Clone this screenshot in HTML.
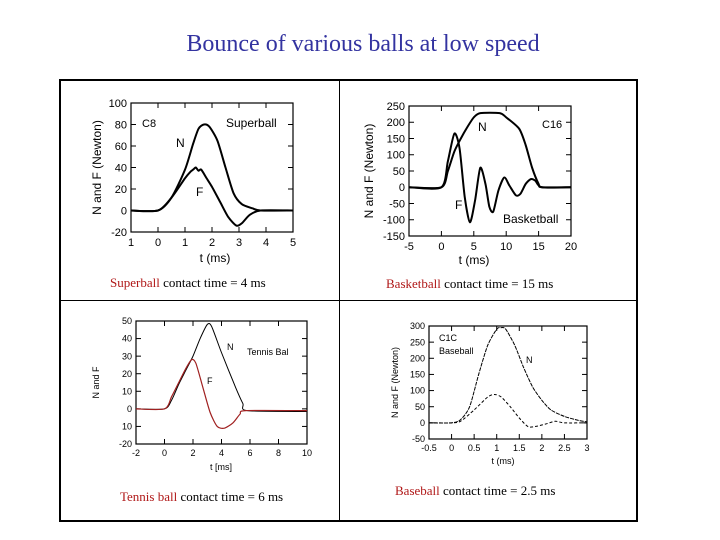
<!DOCTYPE html>
<html><head><meta charset="utf-8"><style>
body{margin:0;background:#fff;width:720px;height:540px;overflow:hidden;font-family:"Liberation Sans",sans-serif}
.cap{position:absolute;font-family:"Liberation Serif",serif;font-size:13px;color:#000;white-space:nowrap}
.cap span{color:#b01818}
</style></head><body>
<div style="position:absolute;left:0;width:726px;top:31px;text-align:center;font-family:'Liberation Serif',serif;font-size:24px;color:#3333a0">Bounce of various balls at low speed</div>
<div style="position:absolute;left:59px;top:79px;width:575px;height:439px;border:2px solid #000;box-sizing:content-box"></div>
<div style="position:absolute;left:339px;top:80px;width:1px;height:440px;background:#000"></div>
<div style="position:absolute;left:60px;top:300px;width:576px;height:1px;background:#000"></div>
<svg id="svg" width="720" height="540" style="position:absolute;left:0;top:0"></svg>
<div class="cap" style="left:110px;top:275px"><span>Superball</span> contact time = 4 ms</div>
<div class="cap" style="left:386px;top:276px"><span>Basketball</span> contact time = 15 ms</div>
<div class="cap" style="left:120px;top:489px"><span>Tennis ball</span> contact time = 6 ms</div>
<div class="cap" style="left:395px;top:483px"><span>Baseball</span> contact time = 2.5 ms</div>
<script>
// Superball
const sbNt=[-1,0,0.5,1,1.3,1.5,1.7,1.9,2.2,2.5,2.8,3.1,3.5,3.8,5];
const sbN=[0,0,12,38,62,76,80,78,65,40,16,6,2,0,0];
const sbFt=[-1,0,0.5,1,1.2,1.3,1.4,1.5,1.6,1.8,2,2.3,2.6,2.9,3.1,3.4,3.8,5];
const sbF=[0,0,12,30,36,38,40,37,38,30,22,8,-6,-14,-12,-4,0,0];
const sbXt=[-1,0,1,2,3,4,5];const sbXl=["1","0","1","2","3","4","5"];
const sbYt=[100,80,60,40,20,0,-20];
// Basketball
const bbNt=[-5,0,1,2,3,4,5,6,9,10,12,13,14,15,15.5,20];
const bbN=[0,0,50,110,150,185,215,228,228,215,180,130,60,10,0,0];
const bbFt=[-5,0,1,2,2.8,3.6,4.4,5.2,6,6.8,7.4,8,8.8,9.7,10.5,11.5,12.2,13,13.8,14.5,15.5,20];
const bbF=[0,0,80,165,120,-30,-108,-40,60,10,-60,-75,-10,30,5,-25,-20,10,25,20,0,0];
const bbXt=[-5,0,5,10,15,20];const bbYt=[250,200,150,100,50,0,-50,-100,-150];
// Tennis
const tbNt=[-2,0,0.5,1,1.5,2,2.5,3,3.3,4,5,5.5,5.8,10];
const tbN=[0,0,5,14,22,30,40,48,47,32,12,3,-1,-1.5];
const tbFt=[-2,0,0.5,1,1.5,1.9,2.2,2.7,3.2,3.7,4.2,4.8,5.3,5.7,10];
const tbF=[0,0,7,15,23,28,26,12,-2,-10,-11,-8,-3,-1,-1];
const tbXt=[-2,0,2,4,6,8,10];const tbYt=[50,40,30,20,10,0,-10,-20];const tbYl=["50","40","30","20","10","0","10","-20"];
// Baseball
const bsNt=[-0.5,0,0.2,0.4,0.6,0.8,1,1.1,1.2,1.4,1.6,1.8,2,2.2,2.5,2.8,3];
const bsN=[0,0,10,50,150,240,290,295,290,240,170,110,70,40,20,8,3];
const bsFt=[-0.5,0,0.2,0.5,0.8,0.95,1.1,1.3,1.5,1.7,1.9,2.1,2.3,2.5,3];
const bsF=[0,0,5,40,80,88,80,50,15,-12,-10,-3,5,0,0];
const bsXt=[-0.5,0,0.5,1,1.5,2,2.5,3];const bsXl=["-0.5","0","0.5","1","1.5","2","2.5","3"];
const bsYt=[300,250,200,150,100,50,0,-50];

const svg=document.getElementById('svg');const NS='http://www.w3.org/2000/svg';
function mk(t,a,p){const e=document.createElementNS(NS,t);for(const k in a)e.setAttribute(k,a[k]);(p||svg).appendChild(e);return e;}
function smooth(P){let d='M'+P[0][0]+','+P[0][1];const k=8;
  for(let i=0;i<P.length-1;i++){const p0=P[i-1]||P[i],p1=P[i],p2=P[i+1],p3=P[i+2]||p2;
    const c1=[p1[0]+(p2[0]-p0[0])/k,p1[1]+(p2[1]-p0[1])/k],c2=[p2[0]-(p3[0]-p1[0])/k,p2[1]-(p3[1]-p1[1])/k];
    d+=` C${c1[0]},${c1[1]} ${c2[0]},${c2[1]} ${p2[0]},${p2[1]}`;}
  return d;}
function chart(c){
  const g=mk('g',{});
  
  
  const X=v=>c.x0+(v-c.xmin)/(c.xmax-c.xmin)*(c.x1-c.x0);
  const Y=v=>c.y0+(c.ymax-v)/(c.ymax-c.ymin)*(c.y1-c.y0);
  const box=mk('rect',{x:c.x0,y:c.y0,width:c.x1-c.x0,height:c.y1-c.y0,fill:'none',stroke:'#000','stroke-width':1.2},g);
  
  
  c.xt.forEach((v,i)=>{
    mk('line',{x1:X(v),x2:X(v),y1:c.y1,y2:c.y1-5,stroke:'#000'},g);
    mk('line',{x1:X(v),x2:X(v),y1:c.y0,y2:c.y0+5,stroke:'#000'},g);
    const t=mk('text',{x:X(v),y:c.y1+c.fs+3,'font-size':c.fs,'text-anchor':'middle'},g);
    t.textContent=c.xl?c.xl[i]:String(v);
    
    
  });
  c.yt.forEach((v,i)=>{
    mk('line',{x1:c.x0,x2:c.x0+5,y1:Y(v),y2:Y(v),stroke:'#000'},g);
    mk('line',{x1:c.x1,x2:c.x1-5,y1:Y(v),y2:Y(v),stroke:'#000'},g);
    const t=mk('text',{x:c.x0-4,y:Y(v)+c.fs*0.35,'font-size':c.fs,'text-anchor':'end'},g);
    t.textContent=c.yl?c.yl[i]:String(v);
    
    
  });
  c.series.forEach(s=>{
    const p=mk('path',{d:smooth(s.t.map((v,i)=>[X(v),Y(s.v[i])])),fill:'none',stroke:s.col,'stroke-width':s.w,'stroke-linejoin':'round','stroke-dasharray':s.dash||'none'},g);
    
    
  });
  const xt=mk('text',{x:c.xtx,y:c.xty,'font-size':c.tfs,'text-anchor':'middle'},g);xt.textContent=c.xtitle;
  
  
  const yt=mk('text',{x:0,y:0,'font-size':c.tfs,'text-anchor':'middle',transform:`translate(${c.ytx},${(c.y0+c.y1)/2}) rotate(-90)`},g);yt.textContent=c.ytitle;
  
  
  c.labels.forEach(l=>{const t=mk('text',{x:l[1],y:l[2],'font-size':l[3]},g);t.textContent=l[0];
    
    });
}
chart({name:'superball-chart',x0:131,x1:293,y0:103,y1:232,xmin:-1,xmax:5,ymin:-20,ymax:100,xt:sbXt,xl:sbXl,yt:sbYt,fs:11,tfs:12,
  series:[{name:'superball-n-line',t:sbNt,v:sbN,col:'#000',w:2},{name:'superball-f-line',t:sbFt,v:sbF,col:'#000',w:2}],
  xtitle:'t   (ms)',xtx:215,xty:262,ytitle:'N  and F  (Newton)',ytx:101,labels:[['C8',142,127,11],['Superball',226,127,12],['N',176,147,12],['F',196,196,12]]});
chart({name:'basketball-chart',x0:409,x1:571,y0:106,y1:236,xmin:-5,xmax:20,ymin:-150,ymax:250,xt:bbXt,yt:bbYt,fs:11,tfs:12,
  series:[{name:'basketball-n-line',t:bbNt,v:bbN,col:'#000',w:2},{name:'basketball-f-line',t:bbFt,v:bbF,col:'#000',w:2}],
  xtitle:'t   (ms)',xtx:474,xty:264,ytitle:'N  and F  (Newton)',ytx:373,labels:[['C16',542,128,11],['N',478,131,12],['F',455,209,12],['Basketball',503,223,12]]});
chart({name:'tennis-chart',x0:136,x1:307,y0:321,y1:444,xmin:-2,xmax:10,ymin:-20,ymax:50,xt:tbXt,yt:tbYt,yl:tbYl,fs:9,tfs:9,
  series:[{name:'tennis-n-line',t:tbNt,v:tbN,col:'#000',w:1},{name:'tennis-f-line',t:tbFt,v:tbF,col:'#a02020',w:1.2}],
  xtitle:'t [ms]',xtx:221,xty:470,ytitle:'N and F',ytx:99,labels:[['N',227,350,9],['Tennis Bal',247,355,9],['F',207,384,9]]});
chart({name:'baseball-chart',x0:429,x1:587,y0:326,y1:439,xmin:-0.5,xmax:3,ymin:-50,ymax:300,xt:bsXt,xl:bsXl,yt:bsYt,fs:9,tfs:9,
  series:[{name:'baseball-n-line',t:bsNt,v:bsN,col:'#000',w:1,dash:'4 1'},{name:'baseball-f-line',t:bsFt,v:bsF,col:'#000',w:1,dash:'3 2'}],
  xtitle:'t (ms)',xtx:503,xty:464,ytitle:'N and F (Newton)',ytx:398,labels:[['C1C',439,341,9],['Baseball',439,354,9],['N',526,363,9]]});
</script>
</body></html>
